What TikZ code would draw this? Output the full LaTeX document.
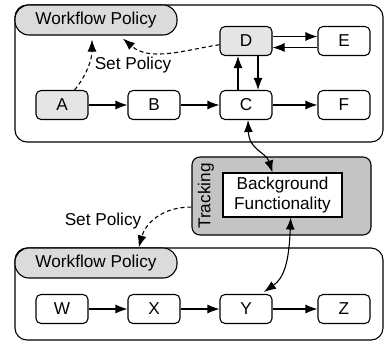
\documentclass[tikz,border=0pt]{standalone}
\usepackage{fontspec}
\setmainfont{Liberation Sans}
\usetikzlibrary{arrows.meta,calc}
\begin{document}
\begin{tikzpicture}[x=1pt,y=-1pt,
  every node/.style={font=\fontsize{17.2}{20.5}\selectfont, inner sep=0pt},
  container/.style={draw, line width=1.1pt, rounded corners=12pt, rectangle},
  tab/.style={draw, line width=1.1pt, rounded corners=14pt, fill=black!14, minimum width=162pt, minimum height=30pt},
  proc/.style={draw, line width=1.1pt, rounded corners=5pt, minimum width=52pt, minimum height=29pt},
  hl/.style={proc, fill=black!10},
  arr/.style={line width=1.1pt, -{Latex[length=12pt,width=9pt]}},
  darr/.style={line width=1.1pt, {Latex[length=12pt,width=9pt]}-{Latex[length=12pt,width=9pt]}},
  dasharr/.style={line width=1.1pt, dash pattern=on 4pt off 3pt, -{Latex[length=12pt,width=9pt]}}
]
\useasboundingbox (0,0) rectangle (384,341);
% containers
\node[container, minimum width=368pt, minimum height=137pt] (cont1) at (199,73.5) {};
\node[container, minimum width=368pt, minimum height=92pt] (cont2) at (199,294) {};
\node[tab] (wp1) at (96,20) {Workflow Policy};
\node[tab] (wp2) at (96,263) {Workflow Policy};
% top nodes
\node[hl] (A) at (62,105) {A};
\node[proc] (B) at (154,105) {B};
\node[proc] (C) at (246,105) {C};
\node[proc] (F) at (344,105) {F};
\node[hl] (D) at (246,41) {D};
\node[proc] (E) at (344,41) {E};
% bottom nodes
\node[proc] (W) at (62,309) {W};
\node[proc] (X) at (154,309) {X};
\node[proc] (Y) at (246,309) {Y};
\node[proc] (Z) at (344,309) {Z};
% tracking
\node[draw, line width=1.1pt, rounded corners=8pt, fill=black!23, minimum width=179pt, minimum height=78pt] (trk) at (281.5,196) {};
\node[rotate=90] (trklbl) at (206,196) {Tracking};
\node[draw, line width=1.1pt, fill=white, minimum width=119pt, minimum height=44pt, align=center] (bg) at (282.5,195) {Background\\Functionality};
% arrows
\draw[arr] (A) -- (B);
\draw[arr] (B) -- (C);
\draw[arr] (C) -- (F);
\draw[arr] ($(D.east)+(0,-4.5)$) -- ($(E.west)+(0,-4.5)$);
\draw[arr] ($(E.west)+(0,6.5)$) -- ($(D.east)+(0,6.5)$);
\draw[arr] ($(C.north)+(-8,0)$) -- ($(D.south)+(-8,0)$);
\draw[arr] ($(D.south)+(12,0)$) -- ($(C.north)+(12,0)$);
\draw[arr] (W) -- (X);
\draw[arr] (X) -- (Y);
\draw[arr] (Y) -- (Z);
% dashed policy arrows
\draw[dasharr] (A.50) .. controls (86,76) and (92,60) .. ($(wp1.south)+(-4,4)$);
\node (sp1) at (133,65) {Set Policy};
\draw[dasharr] (D.188) .. controls (185,50) and (150,62) .. ($(wp1.-30)+(0,3)$);
\draw[dasharr] (trk.187) .. controls (160,207) and (145,225) .. (wp2.20);
\node (sp2) at (103,221) {Set Policy};
% tracking links
\draw[darr] ($(C.south)+(2,0)$) .. controls (249,150) and (266,152) .. (bg.114);
\draw[darr] (bg.-70) .. controls (289,262) and (284,278) .. ($(Y.40)+(0,-2)$);
\end{tikzpicture}
\end{document}
